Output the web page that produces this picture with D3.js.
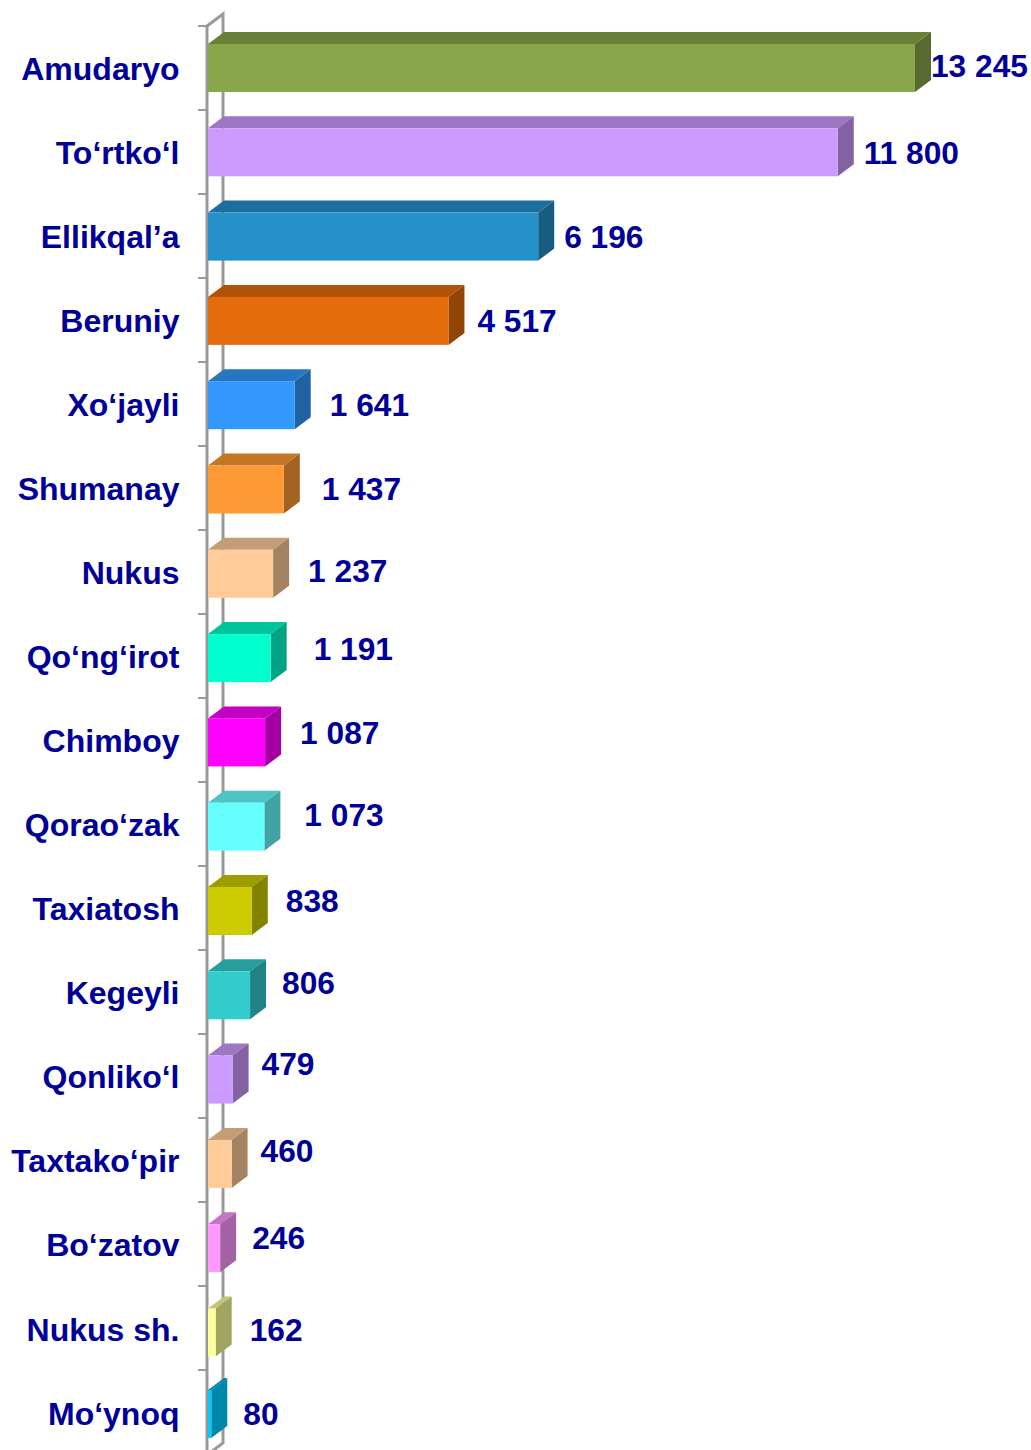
<!DOCTYPE html>
<html><head><meta charset="utf-8">
<script src="https://cdn.jsdelivr.net/npm/d3@7"></script>
<style>html,body{margin:0;padding:0;background:#fff;overflow:hidden}svg{display:block}
text{font-family:"Liberation Sans",Arial,sans-serif;font-weight:700;fill:#000099}</style>
</head><body><svg id="c" width="1031" height="1450"></svg>
<script>
const categories=["Amudaryo","To‘rtko‘l","Ellikqal’a","Beruniy","Xo‘jayli","Shumanay","Nukus","Qo‘ng‘irot","Chimboy","Qorao‘zak","Taxiatosh","Kegeyli","Qonliko‘l","Taxtako‘pir","Bo‘zatov","Nukus sh.","Mo‘ynoq"];
const values=[13245,11800,6196,4517,1641,1437,1237,1191,1087,1073,838,806,479,460,246,162,80];
const valueLabels=["13 245","11 800","6 196","4 517","1 641","1 437","1 237","1 191","1 087","1 073","838","806","479","460","246","162","80"];
const colors=["#8aa64a","#cc99ff","#2690c9","#e46c0a","#3399ff","#ff9933","#ffcc99","#00ffcc","#ff00ff","#66ffff","#cccc00","#33cccc","#cc99ff","#ffcc99","#ff99ff","#ffff99","#00ccff"];
const labelDx=[16,26,26,29,35,38,35,43,35,40,34,32,29,29,32,34,32];
const labelDy=[-2,1,1,1,1,1,-1,-7,-7,-9,-7,-9,-12,-9,-6,2,2];

const svg=d3.select("#c");
const x0=208,dX=16,dY=12,h=48;
const x=d3.scaleLinear().domain([0,13245]).range([207,915]);
const yBar=d3.scalePoint().domain(categories).range([44,44+84.3*16]);   // bar tops
const y=c=>yBar(c)-(c===categories[16]?2.8:0);
const yTick=d3.scalePoint().domain(categories).range([26,26+84*16]);    // axis ticks, band tops
const yCat=d3.scalePoint().domain(categories).range([79.6,1424.6]);     // category baselines
const tickYs=categories.map(c=>yTick(c)).concat([yTick(categories[16])+84]);
const grey="#999999";
const shade=(col,k)=>{const c=d3.rgb(col);return d3.rgb(c.r*k,c.g*k,c.b*k);};

svg.append("path").attr("fill","none").attr("stroke",grey).attr("stroke-width",3)
 .attr("d",d3.line()([[207,26],[223,14],[223,1443],[207,1455]]));
const ax=svg.append("g").attr("stroke",grey);
ax.append("line").attr("x1",207).attr("x2",207).attr("y1",25).attr("y2",1450).attr("stroke-width",3);
ax.selectAll("line.t").data(tickYs).join("line").attr("class","t")
 .attr("x1",198).attr("x2",207).attr("y1",d=>d).attr("y2",d=>d).attr("stroke-width",2);

const g=svg.selectAll("g.bar").data(categories).join("g").attr("class","bar");
const pt=a=>a.map(p=>p.join(",")).join(" ");
g.append("polygon").attr("fill",(c,i)=>i==16?"#0088aa":shade(colors[i],0.77))
 .attr("points",(c,i)=>{const r=x(values[i]),t=y(c);return pt([[x0,t],[r,t],[r+dX,t-dY],[x0+dX,t-dY]]);});
g.append("polygon").attr("fill",(c,i)=>i==16?"#0088aa":shade(colors[i],0.64))
 .attr("points",(c,i)=>{const r=x(values[i]),t=y(c),b=t+h;return pt([[r,t],[r+dX,t-dY],[r+dX,b-dY],[r,b]]);});
g.append("rect").attr("x",x0).attr("y",c=>y(c)).attr("height",h)
 .attr("width",(c,i)=>x(values[i])-x0).attr("fill",(c,i)=>colors[i]);

svg.selectAll("text.cat").data(categories).join("text").attr("class","cat")
 .attr("x",179.5).attr("y",c=>yCat(c)).attr("text-anchor","end")
 .attr("font-size",32).text(c=>c);
svg.selectAll("text.val").data(valueLabels).join("text").attr("class","val")
 .attr("x",(d,i)=>x(values[i])+labelDx[i])
 .attr("y",(d,i)=>yTick(categories[i])+42+labelDy[i]+11)
 .attr("font-size",31.7).text(d=>d);
</script></body></html>
